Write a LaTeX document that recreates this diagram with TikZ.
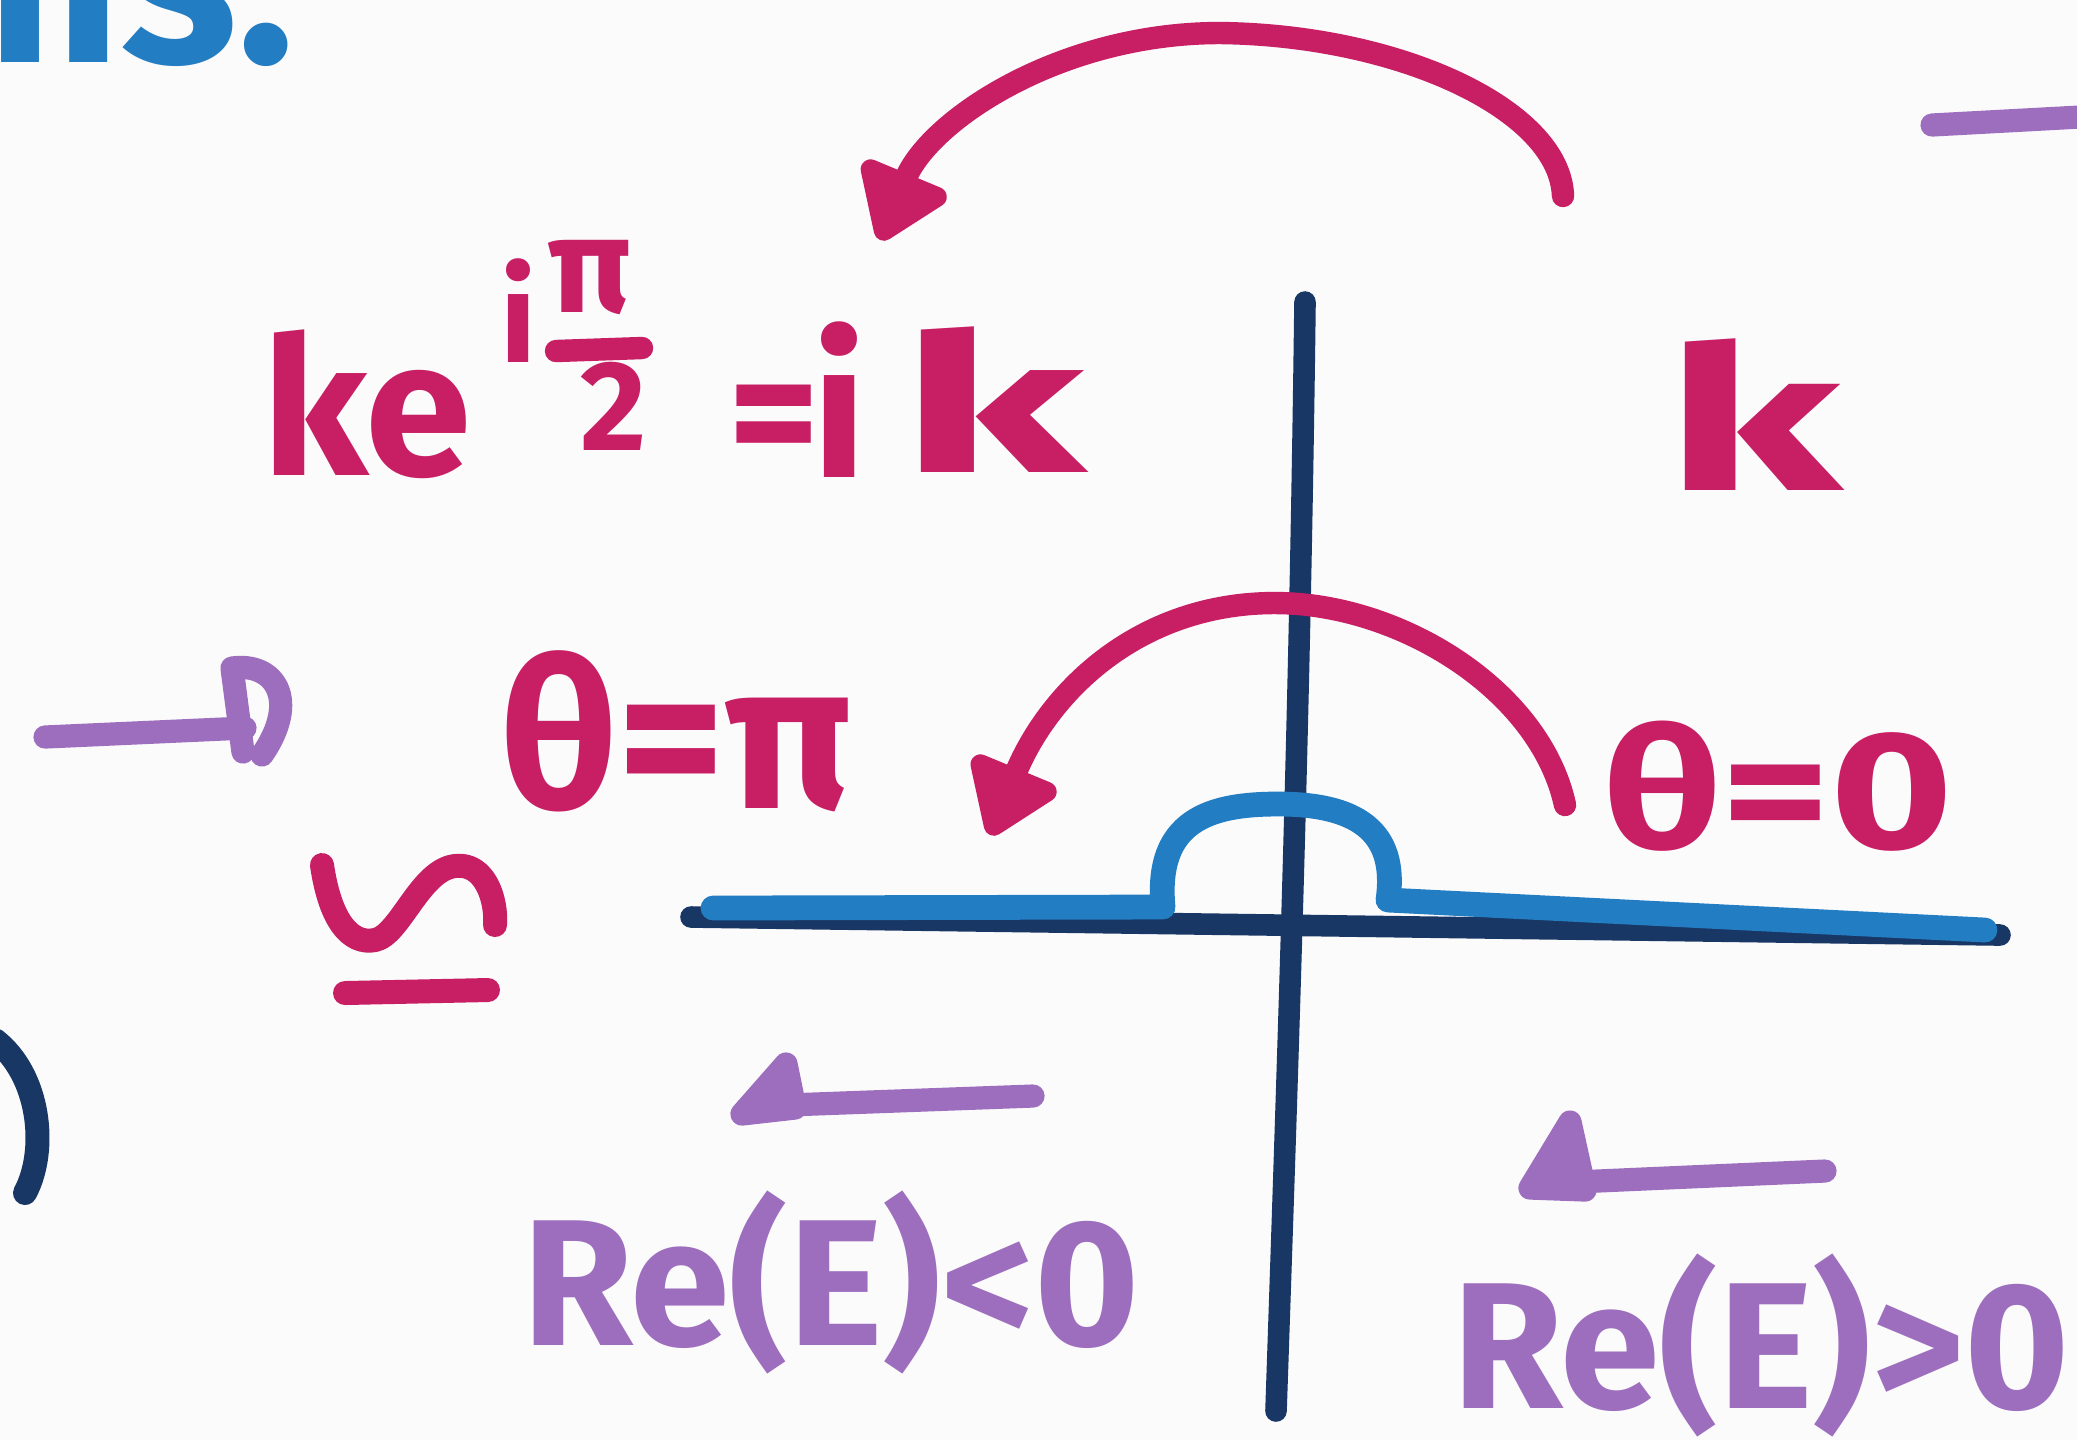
\documentclass[tikz,border=0pt]{standalone}
\usepackage{fontspec}
\setmainfont{Fira Sans}
\usetikzlibrary{arrows.meta}
\definecolor{mag}{RGB}{200,30,100}
\definecolor{pur}{RGB}{158,110,190}
\definecolor{blu}{RGB}{35,125,195}
\definecolor{nav}{RGB}{25,55,100}
\definecolor{paper}{RGB}{251,251,252}
\newcommand\fsz[1]{\fontsize{#1}{#1}\selectfont\bfseries}
\begin{document}
\begin{tikzpicture}[x=0.25pt,y=-0.25pt,
  pen/.style={line width=#1, line cap=round, line join=round},
  magpen/.style={pen=5.6pt, draw=mag},
  purpen/.style={pen=5.8pt, draw=pur},
  navpen/.style={pen=5.4pt, draw=nav},
  blupen/.style={pen=6.2pt, draw=blu},
  bigtip/.style={-{Triangle[length=20pt,width=26pt,round]}},
  txt/.style={inner sep=0pt, outer sep=0pt, anchor=base west},
  magtxt/.style={txt, text=mag},
  purtxt/.style={txt, text=pur}]
\clip (0,0) rectangle (2077,1440);
\fill[paper] (0,0) rectangle (2077,1440);

% coordinates
\coordinate (vtop) at (1305,302);
\coordinate (vbot) at (1276,1411);
\coordinate (hl) at (691,917);
\coordinate (hr) at (2000,935);
\coordinate (a1s) at (1563,196);
\coordinate (a1e) at (880,240);
\coordinate (a2s) at (1565,805);
\coordinate (a2e) at (990,835);

% axes
\draw[navpen] (vtop) .. controls (1300,700) and (1290,1000) .. (vbot);
\draw[navpen] (hl) -- (hr);

% blue contour
\draw[blupen] (713,908) -- (1163,907) .. controls (1155,820) and (1210,804) .. (1278,804)
  .. controls (1355,804) and (1398,830) .. (1388,900) -- (1985,930);

% magenta arcs
\draw[magpen, bigtip] (a1s) .. controls (1560,110) and (1400,35) .. (1220,33)
  .. controls (1060,33) and (930,120) .. (a1e);
\draw[magpen, bigtip] (a2s) .. controls (1540,690) and (1400,603) .. (1275,603)
  .. controls (1140,603) and (1050,690) .. (a2e);

% top-left blue text
\node[txt, anchor=base east, text=blu] (ms) at (295,62) {\fsz{60pt}ms:};

% k e^{i pi/2} = ik
\node[magtxt] (ke) at (262,475) {\fsz{48pt}ke};
\node[magtxt] (supi) at (500,362) {\fsz{32pt}i};
\node[magtxt] (suppi) at (548,312) {\fsz{34pt}π};
\draw[magpen] (556,351) -- (642,348);
\node[magtxt] (sup2) at (580,450) {\fsz{32pt}2};
\node[magtxt] (eq) at (728,472) {\fsz{44pt}=};
\node[magtxt] (iki) at (812,477) {\fsz{48pt}i};
\node[magtxt, xscale=1.75] (ikk) at (900,472) {\fsz{48pt}k};

% right k
\node[magtxt, xscale=1.6] (kright) at (1665,490) {\fsz{50pt}k};

% theta labels
\node[magtxt] (thpi) at (500,808) {\fsz{52pt}θ=π};
\node[magtxt, xscale=1.25] (thzero) at (1603,848) {\fsz{42pt}θ=0};

% wave-with-bar symbol
\draw[magpen, line width=6pt] (322,865) .. controls (330,920) and (350,945) .. (375,940)
  .. controls (400,935) and (420,870) .. (455,866) .. controls (485,862) and (497,900) .. (495,925);
\draw[magpen, line width=6pt] (345,993) -- (488,990);

% purple arrows
\draw[purpen] (45,737) -- (245,728);
\draw[purpen] (243,752) -- (232,668) .. controls (275,662) and (300,700) .. (262,755);
\draw[purpen] (1932,125) -- (2080,117);
\draw[purpen] (1033,1096) -- (760,1106);
\draw[purpen, fill=pur] (786,1064) -- (795,1108) -- (742,1114) -- cycle;
\draw[purpen] (1825,1171) -- (1575,1182);
\draw[purpen, fill=pur] (1570,1122) -- (1585,1190) -- (1530,1188) -- cycle;

% Re(E) labels
\node[purtxt] (relt) at (522,1345) {\fsz{45pt}Re(E)<0};
\node[purtxt] (regt) at (1452,1408) {\fsz{45pt}Re(E)>0};

% navy bracket at left edge
\draw[navpen, line width=6pt] (-5,1040) .. controls (40,1075) and (48,1150) .. (25,1193);
\end{tikzpicture}
\end{document}
